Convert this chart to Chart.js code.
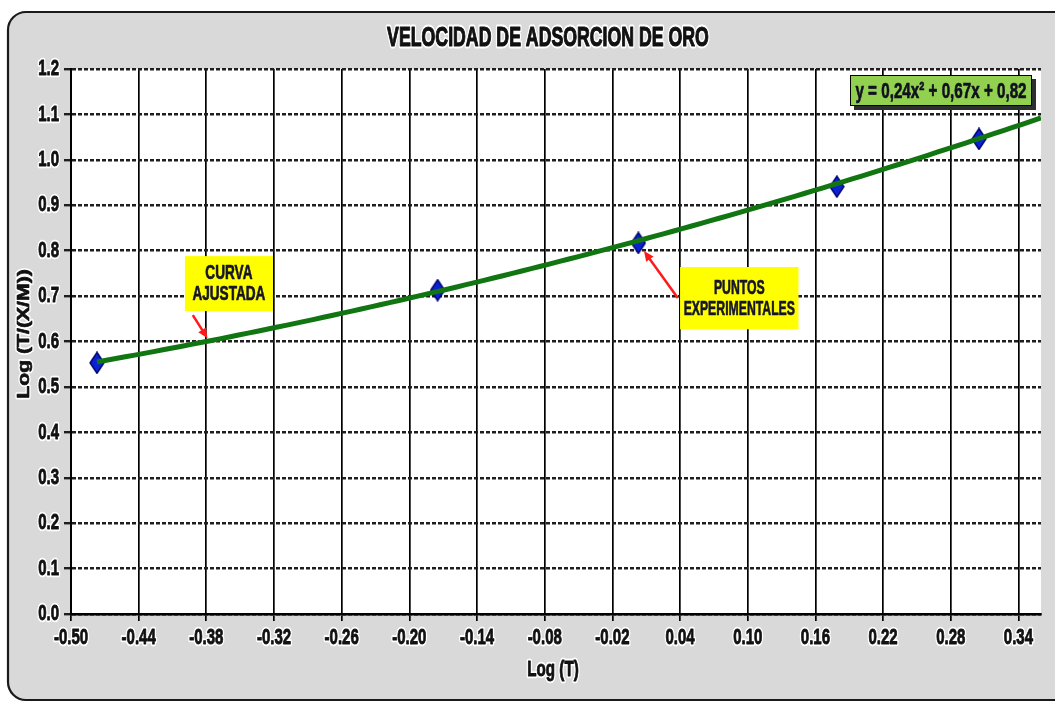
<!DOCTYPE html>
<html>
<head>
<meta charset="utf-8">
<script src="https://cdn.jsdelivr.net/npm/chart.js@4.4.1/dist/chart.umd.min.js"></script>
<style>
  html, body { margin: 0; padding: 0; background: #ffffff; overflow: hidden; }
  #wrap { width: 1055px; height: 702px; position: relative; }
</style>
</head>
<body>
<div id="wrap"><canvas id="c" width="1055" height="702"></canvas></div>
<script>
// Experimental points: Log(T) vs Log(T/(X/M))
const logT   = [-0.477, -0.175, 0.003, 0.179, 0.305];
const logTXM = [0.553, 0.713, 0.817, 0.941, 1.046];

// Fitted polynomial y = a·x² + b·x + c
const fitCoefs = [0.24, 0.67, 0.82];

// Axis ticks
const xTickValues = [-0.50, -0.44, -0.38, -0.32, -0.26, -0.20, -0.14, -0.08, -0.02, 0.04, 0.10, 0.16, 0.22, 0.28, 0.34];
const xRange = [-0.50, 0.36];
const yRange = [0.0, 1.2];
const yStep = 0.1;

// Texts
const chartTitle = 'VELOCIDAD DE ADSORCION DE ORO';
const xAxisTitle = 'Log (T)';
const yAxisTitle = 'Log (T/(X/M))';
const fitNote = ['CURVA', 'AJUSTADA'];
const pointsNote = ['PUNTOS', 'EXPERIMENTALES'];

// Arial-metric face, drawn condensed
const FONT = '"Liberation Sans", Arial, sans-serif';

function fitValue(x) {
  return fitCoefs[0] * x * x + fitCoefs[1] * x + fitCoefs[2];
}
function fmtComma(v) { return v.toFixed(2).replace('.', ','); }
const equationText = 'y = ' + fmtComma(fitCoefs[0]) + 'x\u00B2 + ' + fmtComma(fitCoefs[1]) + 'x + ' + fmtComma(fitCoefs[2]);

// Trend curve sampled along the fitted polynomial, from the first point to the axis end
const trendPts = [];
for (let i = 0; i <= 100; i++) {
  const x = logT[0] + (xRange[1] - logT[0]) * i / 100;
  trendPts.push({ x: x, y: fitValue(x) });
}

// Diamond marker
function makeDiamond() {
  const w = 16, h = 23;
  const cv = document.createElement('canvas');
  cv.width = w; cv.height = h;
  const g = cv.getContext('2d');
  g.beginPath();
  g.moveTo(w / 2, 1);
  g.lineTo(w - 1, h / 2);
  g.lineTo(w / 2, h - 1);
  g.lineTo(1, h / 2);
  g.closePath();
  g.fillStyle = '#0a22d4';
  g.fill();
  g.lineWidth = 1.4;
  g.strokeStyle = '#00006a';
  g.stroke();
  return cv;
}

// Text drawn with an optional white halo, a horizontal/vertical stretch and extra weight
function drawText(ctx, text, x, y, size, opts) {
  opts = opts || {};
  const color = opts.color || '#111111';
  ctx.save();
  ctx.translate(x, y);
  if (opts.rotate) ctx.rotate(opts.rotate);
  ctx.scale(opts.sx || 1, opts.sy || 1);
  ctx.font = 'bold ' + size + 'px ' + FONT;
  ctx.textAlign = opts.align || 'center';
  ctx.textBaseline = 'middle';
  ctx.lineJoin = 'round';
  if (opts.halo !== false) {
    ctx.lineWidth = opts.haloWidth || 4;
    ctx.strokeStyle = '#ffffff';
    ctx.strokeText(text, 0, 0);
  }
  ctx.fillStyle = color;
  ctx.fillText(text, 0, 0);
  ctx.lineWidth = opts.weight == null ? 0.8 : opts.weight;
  if (ctx.lineWidth > 0) {
    ctx.strokeStyle = color;
    ctx.strokeText(text, 0, 0);
  }
  ctx.restore();
}

function arrow(ctx, x1, y1, x2, y2) {
  const ang = Math.atan2(y2 - y1, x2 - x1);
  const head = 10, half = 4.5;
  ctx.save();
  ctx.strokeStyle = '#ff1a1a';
  ctx.fillStyle = '#ff1a1a';
  ctx.lineWidth = 2.5;
  ctx.beginPath();
  ctx.moveTo(x1, y1);
  ctx.lineTo(x2 - head * 0.7 * Math.cos(ang), y2 - head * 0.7 * Math.sin(ang));
  ctx.stroke();
  ctx.beginPath();
  ctx.moveTo(x2, y2);
  ctx.lineTo(x2 - head * Math.cos(ang) + half * Math.sin(ang), y2 - head * Math.sin(ang) - half * Math.cos(ang));
  ctx.lineTo(x2 - head * Math.cos(ang) - half * Math.sin(ang), y2 - head * Math.sin(ang) + half * Math.cos(ang));
  ctx.closePath();
  ctx.fill();
  ctx.restore();
}

function noteBox(chart, box, lines, tail, tip, sx) {
  const ctx = chart.ctx;
  const xs = chart.scales.x, ys = chart.scales.y;
  const l = xs.getPixelForValue(box[0]), r = xs.getPixelForValue(box[1]);
  const t = ys.getPixelForValue(box[2]), b = ys.getPixelForValue(box[3]);
  arrow(ctx, xs.getPixelForValue(tail[0]), ys.getPixelForValue(tail[1]),
             xs.getPixelForValue(tip[0]), ys.getPixelForValue(tip[1]));
  ctx.save();
  ctx.fillStyle = '#ffff00';
  ctx.fillRect(l, t, r - l, b - t);
  ctx.restore();
  const cx = (l + r) / 2, cy = (t + b) / 2;
  const gap = 21;
  lines.forEach((ln, i) => {
    drawText(ctx, ln, cx, cy + 1 + (i - (lines.length - 1) / 2) * gap, 17,
      { halo: false, color: '#15152b', sx: sx, sy: 1.14, weight: 0.6 });
  });
}

const framePlugin = {
  id: 'frame',
  beforeDraw(chart) {
    const ctx = chart.ctx;
    const a = chart.chartArea;
    ctx.save();
    // rounded gray panel
    const x0 = 8, y0 = 12, x1 = 1075, y1 = 700, r = 18;
    ctx.beginPath();
    ctx.moveTo(x0 + r, y0);
    ctx.lineTo(x1 - r, y0);
    ctx.arcTo(x1, y0, x1, y0 + r, r);
    ctx.lineTo(x1, y1 - r);
    ctx.arcTo(x1, y1, x1 - r, y1, r);
    ctx.lineTo(x0 + r, y1);
    ctx.arcTo(x0, y1, x0, y1 - r, r);
    ctx.lineTo(x0, y0 + r);
    ctx.arcTo(x0, y0, x0 + r, y0, r);
    ctx.closePath();
    ctx.fillStyle = '#d9d9d9';
    ctx.fill();
    ctx.lineWidth = 2.2;
    ctx.strokeStyle = '#1a1a1a';
    ctx.stroke();
    // white plotting area
    ctx.fillStyle = '#ffffff';
    ctx.fillRect(a.left, a.top, a.right - a.left, a.bottom - a.top);
    ctx.restore();
  }
};

const overlayPlugin = {
  id: 'overlay',
  afterDraw(chart) {
    const ctx = chart.ctx;
    const a = chart.chartArea;
    const xs = chart.scales.x, ys = chart.scales.y;

    // tick labels
    xs.ticks.forEach(t => {
      drawText(ctx, Number(t.value).toFixed(2), xs.getPixelForValue(t.value), a.bottom + 24, 20,
        { sx: 0.75, sy: 1.12 });
    });
    ys.ticks.forEach(t => {
      drawText(ctx, Number(t.value).toFixed(1), a.left - 12, ys.getPixelForValue(t.value), 20,
        { sx: 0.75, sy: 1.12, align: 'right' });
    });

    // titles
    drawText(ctx, chartTitle, 548, 38, 23, { sx: 0.77, sy: 1.2, weight: 1 });
    drawText(ctx, xAxisTitle, (a.left + a.right) / 2 - 3, 670, 20, { sx: 0.76, sy: 1.1 });
    drawText(ctx, yAxisTitle, 25, 334, 20, { rotate: -Math.PI / 2, sx: 1.06, sy: 0.8 });

    // equation box, pinned to the upper right of the plotting area
    const bw = 182, bh = 31;
    const bx = a.right - 9 - bw, by = a.top + 6;
    ctx.save();
    ctx.fillStyle = '#2e2e2e';
    ctx.fillRect(bx + 4, by + 4, bw, bh);
    ctx.fillStyle = '#92d050';
    ctx.fillRect(bx, by, bw, bh);
    ctx.lineWidth = 1;
    ctx.strokeStyle = '#000000';
    ctx.strokeRect(bx + 0.5, by + 0.5, bw - 1, bh - 1);
    ctx.restore();
    drawText(ctx, equationText, bx + bw / 2, by + bh / 2 + 1, 20,
      { halo: false, color: '#101020', sx: 0.76, sy: 1.12, weight: 0.6 });

    // callouts
    noteBox(chart, [-0.399, -0.321, 0.788, 0.667], fitNote, [-0.392, 0.658], [-0.379, 0.607], 0.8);
    noteBox(chart, [0.040, 0.145, 0.764, 0.627], pointsNote, [0.038, 0.696], [0.008, 0.799], 0.72);
  }
};

new Chart(document.getElementById('c'), {
  type: 'scatter',
  data: {
    datasets: [
      {
        label: 'Curva ajustada',
        data: trendPts,
        showLine: true,
        borderColor: '#117511',
        borderWidth: 5,
        pointRadius: 0,
        tension: 0,
        order: 0
      },
      {
        label: 'Puntos experimentales',
        data: logT.map((x, i) => ({ x: x, y: logTXM[i] })),
        pointStyle: makeDiamond(),
        pointRadius: 8,
        showLine: false,
        order: 1
      }
    ]
  },
  options: {
    responsive: false,
    animation: false,
    devicePixelRatio: 1,
    layout: { padding: { top: 69, right: 14, left: 0, bottom: 0 } },
    plugins: {
      legend: { display: false },
      tooltip: { enabled: false },
      title: { display: false }
    },
    scales: {
      x: {
        type: 'linear',
        min: xRange[0],
        max: xRange[1],
        afterBuildTicks(s) { s.ticks = xTickValues.map(v => ({ value: v })); },
        afterFit(s) { s.height = 88; },
        grid: { color: '#000000', lineWidth: 1.7, tickLength: 7, drawTicks: true },
        border: { color: '#000000', width: 2.5 },
        ticks: { display: false, autoSkip: false, maxRotation: 0 }
      },
      y: {
        type: 'linear',
        min: yRange[0],
        max: yRange[1],
        afterFit(s) { s.width = 71; },
        grid: { color: '#1e1e1e', lineWidth: 2.4, tickLength: 7, drawTicks: true },
        border: { color: '#000000', width: 2, dash: [4, 2] },
        ticks: { display: false, stepSize: yStep }
      }
    }
  },
  plugins: [framePlugin, overlayPlugin]
});
</script>
</body>
</html>
